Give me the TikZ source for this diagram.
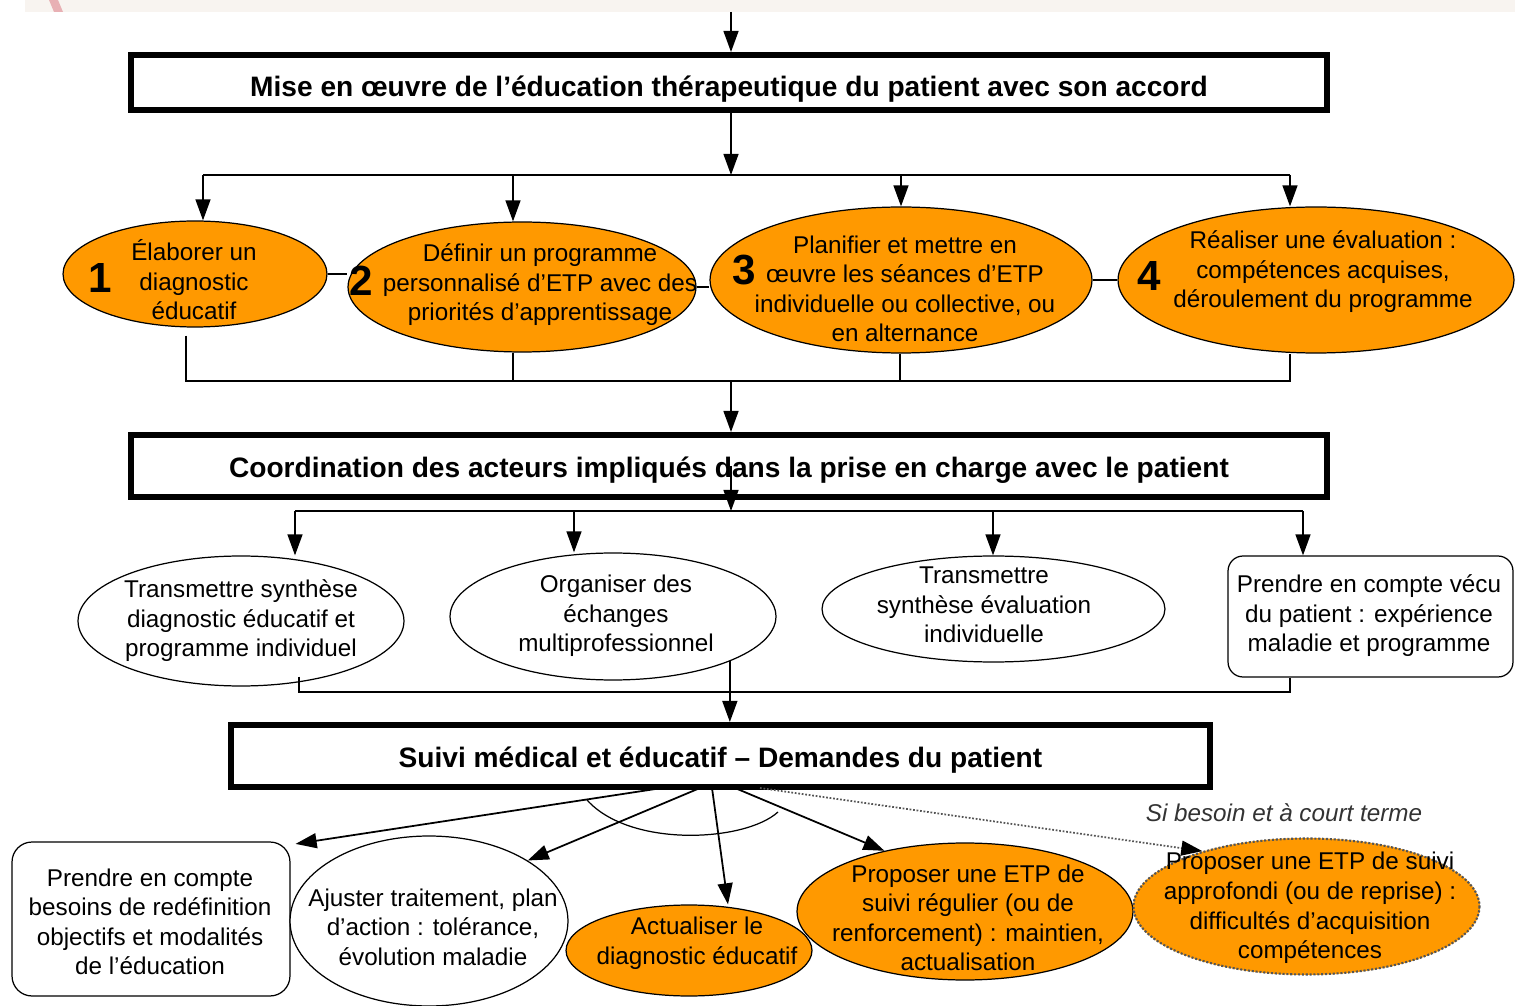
\documentclass[tikz,border=0pt]{standalone}
\usepackage{fontspec}
\setmainfont{Liberation Sans}
\usetikzlibrary{arrows.meta,shapes.geometric}
\definecolor{etpOrange}{HTML}{FF9900}
\definecolor{etpStrip}{HTML}{F8F4F0}
\definecolor{etpPink}{HTML}{E8B0B4}
\definecolor{etpDot}{HTML}{555555}
\tikzset{
  etp box/.style={draw, line width=3.4pt, fill=white, inner sep=0pt,
    font=\fontsize{16}{19}\selectfont\bfseries},
  etp oval/.style={ellipse, draw, line width=0.7pt, fill=etpOrange, inner sep=0pt},
  etp blank/.style={ellipse, draw, line width=0.7pt, fill=white, inner sep=0pt},
  etp card/.style={rectangle, draw, line width=0.7pt, fill=white, inner sep=0pt},
  etp txt/.style={align=center, inner sep=0pt, font=\fontsize{13.8}{16.8}\selectfont},
  etp num/.style={inner sep=0pt, font=\fontsize{24}{24}\selectfont\bfseries},
  etp line/.style={line width=1pt},
  etp arr/.style={line width=1pt, -{Triangle[length=12pt,width=8.5pt]}},
}
\newcommand{\etpThin}{0.7pt}

\begin{document}
\begin{tikzpicture}[x=0.02cm, y=-0.02cm]
  % pixel grid of the reference: x to the right, y downwards
  \useasboundingbox (0,0) rectangle (1515,1006);

  % --- page strip at the top edge ---
  \fill[etpStrip] (25,0) rectangle (1515,12);
  \fill[etpPink] (49,0) -- (58,0) -- (63,12) -- (54,12) -- cycle;

  % --- Tier 1: implementation ---
  \node[etp box, minimum width=23.92cm, minimum height=1.1cm,
        text height=15.5pt, text depth=0pt] (mise) at (729,82.5)
    {Mise en œuvre de l’éducation thérapeutique du patient avec son accord};

  \node[etp oval, minimum width=5.28cm, minimum height=2.12cm] (e1) at (195,274) {};
  \node[etp oval, minimum width=6.96cm, minimum height=2.6cm]  (e2) at (522,287) {};
  \node[etp oval, minimum width=7.64cm, minimum height=2.92cm] (e3) at (901,280) {};
  \node[etp oval, minimum width=7.92cm, minimum height=2.92cm] (e4) at (1316,280) {};

  \node[etp txt] (e1t) at (194,280) {Élaborer un\\diagnostic\\éducatif};
  \node[etp txt] (e2t) at (540,285) {Définir un programme\\personnalisé d’ETP avec des\\priorités d’apprentissage};
  \node[etp txt] (e3t) at (905,289) {Planifier et mettre en\\œuvre les séances d’ETP\\individuelle ou collective, ou\\en alternance};
  \node[etp txt] (e4t) at (1323,272) {Réaliser une évaluation :\\compétences acquises,\\déroulement du programme};

  \node[etp num] (n1) at (100,278) {1};
  \node[etp num] (n2) at (361,281) {2};
  \node[etp num] (n3) at (744,270) {3};
  \node[etp num] (n4) at (1149,276) {4};

  % --- Tier 2: coordination ---
  \node[etp box, minimum width=23.92cm, minimum height=1.24cm,
        text height=13pt, text depth=0pt] (coord) at (729,466)
    {Coordination des acteurs impliqués dans la prise en charge avec le patient};

  \node[etp blank, minimum width=6.52cm, minimum height=2.6cm]  (m1) at (241,621) {};
  \node[etp blank, minimum width=6.52cm, minimum height=2.54cm] (m2) at (613,616.5) {};
  \node[etp blank, minimum width=6.86cm, minimum height=2.12cm] (m3) at (993.5,609) {};
  \node[etp card, rounded corners=0.3cm, minimum width=5.7cm, minimum height=2.42cm] (m4) at (1370.5,616.5) {};

  \node[etp txt] (m1t) at (241,621) {Transmettre synthèse\\diagnostic éducatif et\\programme individuel};
  \node[etp txt] (m2t) at (616,616) {Organiser des\\échanges\\multiprofessionnel};
  \node[etp txt] (m3t) at (984,605) {Transmettre\\synthèse évaluation\\individuelle};
  \node[etp txt] (m4t) at (1369,616) {Prendre en compte vécu\\du patient : expérience\\maladie et programme};

  % --- Tier 3: follow-up ---
  \node[etp box, minimum width=19.58cm, minimum height=1.24cm,
        text height=13pt, text depth=0pt] (suivi) at (720.5,756)
    {Suivi médical et éducatif – Demandes du patient};

  \node[etp card, rounded corners=0.4cm, minimum width=5.56cm, minimum height=3.08cm] (b1) at (151,919) {};
  \node[etp blank, minimum width=5.56cm, minimum height=3.4cm]  (b2) at (429,921) {};
  \node[etp oval, minimum width=4.92cm, minimum height=1.82cm]  (b3) at (689,950.5) {};
  \node[etp oval, minimum width=6.72cm, minimum height=2.74cm]  (b4) at (965,911.5) {};
  \node[etp oval, draw=none, minimum width=6.94cm, minimum height=2.74cm] (b5) at (1306.5,906.5) {};
  \draw[etpDot, line width=1.2pt, densely dotted] (b5.center) ellipse (173 and 68);

  \node[etp txt] (b1t) at (150,922) {Prendre en compte\\besoins de redéfinition\\objectifs et modalités\\de l’éducation};
  \node[etp txt] (b2t) at (433,927) {Ajuster traitement, plan\\d’action : tolérance,\\évolution maladie};
  \node[etp txt] (b3t) at (697,943) {Actualiser le\\diagnostic éducatif};
  \node[etp txt] (b4t) at (968,918) {Proposer une ETP de\\suivi régulier (ou de\\renforcement) : maintien,\\actualisation};
  \node[etp txt] (b5t) at (1310,908) {Proposer une ETP de suivi\\approfondi (ou de reprise) :\\difficultés d’acquisition\\compétences};
  \node[etp txt, font=\fontsize{13.8}{16.8}\selectfont\itshape, text=black!80] (besoin) at (1284,813)
    {Si besoin et à court terme};

  % --- connectors, tier 1 ---
  \coordinate (topin) at (731,12);
  \draw[etp arr] (topin) -- (topin |- mise.north);
  \coordinate (bus1) at (731,175);
  \draw[etp arr] (mise.south -| bus1) -- (bus1);
  \foreach \n/\x in {1/203,2/513,3/901,4/1290}
    \coordinate (d\n) at (\x,175);
  \draw[etp line] (d1) -- (d4);
  \foreach \n in {1,...,4}
    \draw[etp arr] (d\n) -- (d\n |- e\n.north);

  \draw[line width=\etpThin] (e1.east) -- (e1.east -| e2.west);
  \draw[line width=\etpThin] (e2.east) -- (e2.east -| e3.west);
  \draw[line width=\etpThin] (e3) -- (e4);

  \foreach \n/\x in {1/186,2/513,3/900,4/1290}
    \coordinate (u\n) at (\x,381);
  \draw[etp line] ([yshift=-0.16cm]u1 |- e1.south) -- (u1) -- (u4) -- (u4 |- e4.south);
  \draw[etp line] (u2 |- e2.south) -- (u2);
  \draw[etp line] (u3 |- e3.south) -- (u3);
  \coordinate (j1) at (731,381);
  \draw[etp arr] (j1) -- (j1 |- coord.north);

  % --- connectors, tier 2 ---
  \coordinate (bus2) at (731,511);
  \draw[etp arr] (bus2 |- coord.center) -- (bus2);
  \foreach \n/\x in {1/295,2/574,3/993,4/1303}
    \coordinate (c\n) at (\x,511);
  \draw[etp line] (c1) -- (c4);
  \foreach \n in {1,...,4}
    \draw[etp arr] (c\n) -- (c\n |- m\n.north);

  \coordinate (v1) at (299,692);
  \coordinate (v4) at (1290,692);
  \draw[etp line] ([yshift=0.2cm]v1 |- m1.south) -- (v1) -- (v4) -- (v4 |- m4.south);
  \draw[etp arr] (m2.-21) -- (m2.-21 |- suivi.north);

  % --- connectors, tier 3 ---
  \coordinate (s1) at (662,788);
  \coordinate (s2) at (700,788);
  \coordinate (s3) at (712,788);
  \coordinate (s4) at (735,788);
  \coordinate (s5) at (760,788);
  \draw[etp arr] (s1) -- ([xshift=0.1cm,yshift=-0.05cm]b1.north east);
  \draw[etp arr] (s2) -- (b2.north east);
  \draw[etp arr] (s3) -- ([xshift=0.78cm]b3.north);
  \draw[etp arr] (s4) -- (b4.143);
  \draw[etpDot, line width=1pt, densely dotted,
        -{Triangle[length=12pt,width=8.5pt,color=black]}] (s5) -- (b5.152);
  \draw[line width=\etpThin] (587,800) .. controls (630,848) and (745,842) .. (778,812);
\end{tikzpicture}
\end{document}
